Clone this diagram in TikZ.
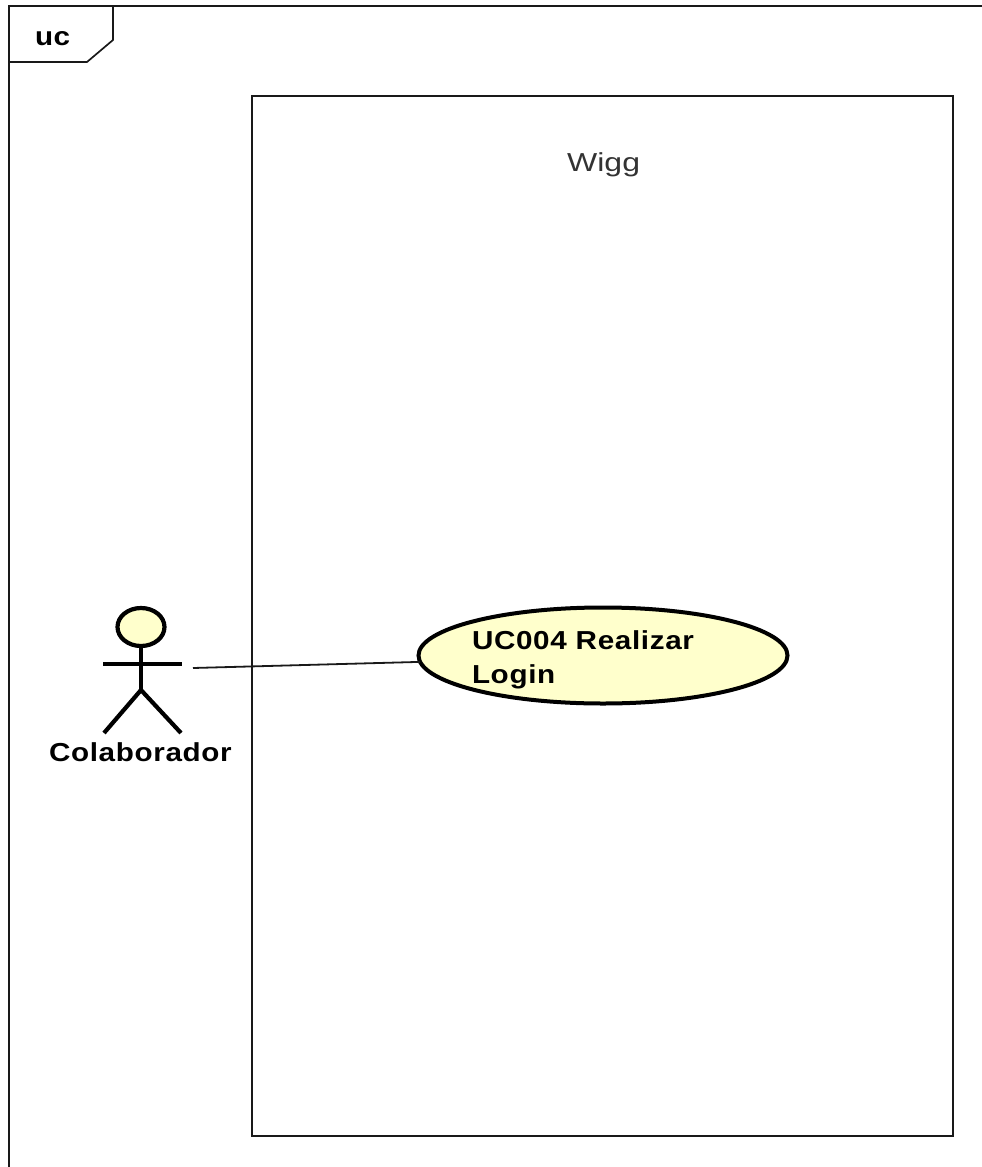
\documentclass[tikz,border=0pt]{standalone}
\usepackage{fontspec}
\usetikzlibrary{shapes.geometric}
\newfontfamily\lblfont[FakeStretch=1.14,LetterSpace=2.5]{Liberation Sans Bold}
\newfontfamily\thinfont[FakeStretch=1.23]{Liberation Sans}
\definecolor{yellowfill}{HTML}{FFFFCC}
\tikzset{
  framedraw/.style={draw=black!90,line width=1.7pt},
  actorline/.style={draw=black,line width=4.2pt},
  ucfill/.style={fill=yellowfill},
  lbl/.style={anchor=base west,inner sep=0pt,outer sep=0pt,font=\lblfont\fontsize{26}{30}\selectfont,text=black},
}
\begin{document}
\begin{tikzpicture}[x=1pt,y=-1pt]
\useasboundingbox (0,0) rectangle (982,1167);
\fill[white] (0,0) rectangle (982,1167);
% outer frame
\draw[framedraw] (982,6) -- (9,6) -- (9,1167);
\draw[framedraw,line join=miter] (113,6) -- (113,40) -- (87,62) -- (9,62);
\node[lbl] (tabtext) at (35,45) {uc};
% system boundary
\node[framedraw,rectangle,minimum width=701pt,minimum height=1040pt,inner sep=0pt,outer sep=0pt,anchor=north west] (system) at (252,96) {};
\node[anchor=base west,inner sep=0pt,text=black!80,font=\thinfont\fontsize{26}{30}\selectfont] (systemname) at (567,171) {Wigg};
% use case
\node[ellipse,draw=black,line width=4pt,ucfill,minimum width=369pt,minimum height=96pt,inner sep=0pt,outer sep=0pt] (usecase) at (603,655.5) {};
\node[lbl] (ucline1) at (472,649) {UC004 Realizar};
\node[lbl] (ucline2) at (472,683) {Login};
% actor
\node[ellipse,draw=black,line width=4.2pt,ucfill,minimum width=47pt,minimum height=38pt,inner sep=0pt,outer sep=0pt] (head) at (141,627) {};
\coordinate (hip) at (141,690);
\coordinate (armL) at (103,664);
\coordinate (armR) at (182,664);
\coordinate (legL) at (104,733);
\coordinate (legR) at (181,733);
\draw[actorline] (head.south) -- (hip);
\draw[actorline] (armL) -- (armR);
\draw[actorline] (legL) -- (hip) -- (legR);
\node[lbl] (actorname) at (49,761) {Colaborador};
% association
\coordinate (assocstart) at (193,668);
\draw[draw=black!90,line width=1.8pt] (assocstart) -- (usecase.182);
\end{tikzpicture}
\end{document}
